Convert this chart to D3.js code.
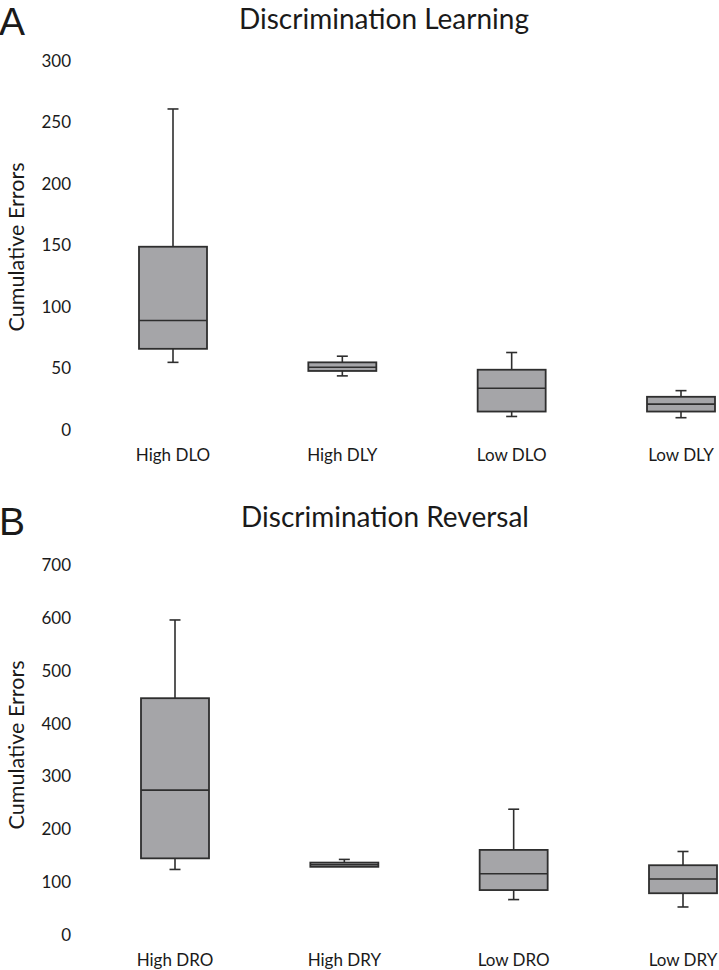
<!DOCTYPE html>
<html>
<head>
<meta charset="utf-8">
<script src="https://cdn.jsdelivr.net/npm/d3@7"></script>
<style>
  body { margin: 0; background: #fff; }
  svg { display: block; }
  .tick text { font-family: Lato, "Open Sans", sans-serif; font-size: 17px; fill: #1a1a1a; }
</style>
</head>
<body>
<svg id="chart" width="719" height="970"></svg>
<script>
// ---- Data ----
const learningCategories = ["High DLO", "High DLY", "Low DLO", "Low DLY"];
const learningLowerWhisker = [55, 44, 11, 10];
const learningQ1 = [66, 48, 15, 15];
const learningMedian = [89, 51, 34, 21];
const learningQ3 = [149, 55, 49, 27];
const learningUpperWhisker = [261, 60, 63, 32];
const learningTicks = [0, 50, 100, 150, 200, 250, 300];

const reversalCategories = ["High DRO", "High DRY", "Low DRO", "Low DRY"];
const reversalLowerWhisker = [124, 129, 67, 53];
const reversalQ1 = [145, 129, 85, 79];
const reversalMedian = [274, 133, 116, 106];
const reversalQ3 = [448, 137, 161, 132];
const reversalUpperWhisker = [596, 143, 238, 158];
const reversalTicks = [0, 100, 200, 300, 400, 500, 600, 700];

const svg = d3.select("#chart");
const textColor = "#1a1a1a";
const boxFill = "#a5a5a8";
const boxStroke = "#2e2e2e";

function panel(opts) {
  const g = svg.append("g");
  const x = d3.scalePoint().domain(opts.categories).range(opts.xRange);
  const y = d3.scaleLinear().domain([0, opts.max]).range(opts.yRange);
  const boxW = 68, capW = 11;

  // panel letter
  g.append("text").attr("x", -1).attr("y", opts.letterY)
    .attr("font-family", "Liberation Sans, Arial, sans-serif")
    .attr("font-size", 39).attr("fill", textColor).text(opts.letter);
  // title
  g.append("text").attr("x", opts.titleX).attr("y", opts.titleY)
    .attr("text-anchor", "middle")
    .attr("font-family", "Lato, 'Open Sans', sans-serif")
    .attr("font-size", 28).attr("fill", textColor).text(opts.title);
  // y axis
  const ax = g.append("g").attr("transform", "translate(71,0)")
    .call(d3.axisLeft(y).tickValues(opts.ticks).tickSize(0).tickPadding(0).tickFormat(d3.format("d")));
  ax.select(".domain").remove();
  // y title
  g.append("text")
    .attr("transform", `translate(24,${opts.yTitleMid}) rotate(-90)`)
    .attr("text-anchor", "middle")
    .attr("font-family", "Lato, 'Open Sans', sans-serif")
    .attr("font-size", 21.5).attr("fill", textColor).text("Cumulative Errors");
  // x labels
  g.selectAll(".xl").data(opts.categories).enter().append("text")
    .attr("x", d => x(d)).attr("y", opts.xLabelY)
    .attr("text-anchor", "middle")
    .attr("font-family", "Lato, 'Open Sans', sans-serif")
    .attr("font-size", 17).attr("fill", textColor).text(d => d);

  const data = opts.categories.map((c, i) => ({
    c, lo: opts.lo[i], q1: opts.q1[i], med: opts.med[i], q3: opts.q3[i], hi: opts.hi[i]
  }));
  const b = g.selectAll(".box").data(data).enter().append("g");
  // whisker stems
  b.append("line").attr("x1", d => x(d.c)).attr("x2", d => x(d.c))
    .attr("y1", d => y(d.hi)).attr("y2", d => y(d.q3))
    .attr("stroke", boxStroke).attr("stroke-width", 1.6);
  b.append("line").attr("x1", d => x(d.c)).attr("x2", d => x(d.c))
    .attr("y1", d => y(d.q1)).attr("y2", d => y(d.lo))
    .attr("stroke", boxStroke).attr("stroke-width", 1.6);
  // caps
  b.append("line").attr("x1", d => x(d.c) - capW / 2).attr("x2", d => x(d.c) + capW / 2)
    .attr("y1", d => y(d.hi)).attr("y2", d => y(d.hi))
    .attr("stroke", boxStroke).attr("stroke-width", 1.6);
  b.filter(d => d.lo < d.q1).append("line").attr("x1", d => x(d.c) - capW / 2).attr("x2", d => x(d.c) + capW / 2)
    .attr("y1", d => y(d.lo)).attr("y2", d => y(d.lo))
    .attr("stroke", boxStroke).attr("stroke-width", 1.6);
  // box
  b.append("rect").attr("x", d => x(d.c) - boxW / 2).attr("width", boxW)
    .attr("y", d => y(d.q3)).attr("height", d => y(d.q1) - y(d.q3))
    .attr("fill", boxFill).attr("stroke", boxStroke).attr("stroke-width", 1.8);
  // median
  b.append("line").attr("x1", d => x(d.c) - boxW / 2).attr("x2", d => x(d.c) + boxW / 2)
    .attr("y1", d => y(d.med)).attr("y2", d => y(d.med))
    .attr("stroke", boxStroke).attr("stroke-width", 1.6);
}

panel({
  letter: "A", letterY: 35, title: "Discrimination Learning", titleX: 384, titleY: 28.5,
  categories: learningCategories, lo: learningLowerWhisker, q1: learningQ1, med: learningMedian,
  q3: learningQ3, hi: learningUpperWhisker, ticks: learningTicks, max: 300,
  xRange: [173, 681], yRange: [430, 61], xLabelY: 461, yTitleMid: 247
});
panel({
  letter: "B", letterY: 535, title: "Discrimination Reversal", titleX: 385, titleY: 527,
  categories: reversalCategories, lo: reversalLowerWhisker, q1: reversalQ1, med: reversalMedian,
  q3: reversalQ3, hi: reversalUpperWhisker, ticks: reversalTicks, max: 700,
  xRange: [175, 683], yRange: [935, 565], xLabelY: 966, yTitleMid: 745
});
</script>
</body>
</html>
